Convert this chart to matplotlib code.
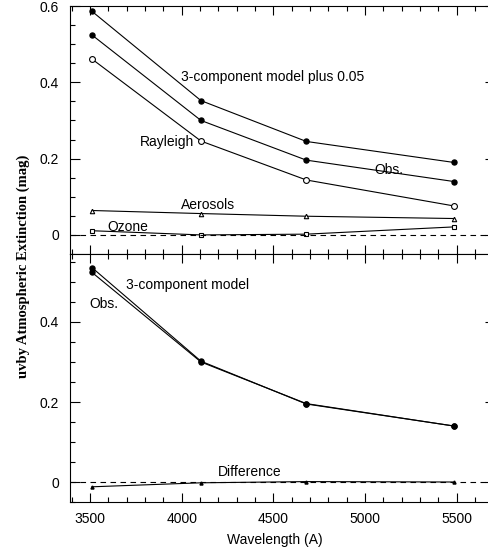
import matplotlib
matplotlib.use("Agg")
import matplotlib.pyplot as plt
from matplotlib.ticker import MultipleLocator

plt.rcParams["font.family"] = ["Liberation Sans", "DejaVu Sans"]
plt.rcParams["font.size"] = 10

# uvby central wavelengths (A)
wavelength = [3510, 4105, 4680, 5485]

# extinction components (mag)
rayleigh = [0.461, 0.246, 0.144, 0.076]
aerosols = [0.064, 0.056, 0.049, 0.043]
ozone = [0.011, 0.000, 0.002, 0.021]
model = [0.536, 0.302, 0.195, 0.140]
model_plus = [0.586, 0.352, 0.245, 0.190]
observed = [0.524, 0.300, 0.196, 0.140]
difference = [-0.012, -0.002, 0.001, 0.000]

XLIM = (3390, 5710)

fig = plt.figure(figsize=(4.89, 5.52), dpi=100)
left, right = 70 / 489, 495 / 489
ax1 = fig.add_axes([left, 1 - 254 / 552, right - left, 248 / 552])
ax2 = fig.add_axes([left, 1 - 502 / 552, right - left, 248 / 552])

line_kw = dict(color="black", linewidth=0.8)
filled = dict(marker="o", markersize=3.6, markerfacecolor="black", markeredgecolor="black")
open_circ = dict(marker="o", markersize=4.2, markerfacecolor="white", markeredgecolor="black",
                 markeredgewidth=0.8)

# top panel: components and observations
ax1.plot(wavelength, model_plus, **line_kw, **filled)
ax1.plot(wavelength, observed, **line_kw, **filled)
ax1.plot(wavelength, rayleigh, **line_kw, **open_circ)
ax1.plot(wavelength, aerosols, **line_kw, marker="^", markersize=3.2, markerfacecolor="white",
         markeredgecolor="black", markeredgewidth=0.8)
ax1.plot(wavelength, ozone, **line_kw, marker="s", markersize=3.0, markerfacecolor="white",
         markeredgecolor="black", markeredgewidth=0.8)
ax1.axhline(0, color="black", linewidth=0.8, linestyle=(0, (5, 4)))

ax1.text(3996, 0.414, "3-component model plus 0.05", va="center", ha="left")
ax1.text(4065, 0.244, "Rayleigh", va="center", ha="right")
ax1.text(5050, 0.171, "Obs.", va="center", ha="left")
ax1.text(3996, 0.079, "Aerosols", va="center", ha="left")
ax1.text(3593, 0.022, "Ozone", va="center", ha="left")

ax1.set_ylim(-0.05, 0.6)
ax1.yaxis.set_major_locator(MultipleLocator(0.2))
ax1.yaxis.set_minor_locator(MultipleLocator(0.05))

# bottom panel: model vs observed and their difference
ax2.plot(wavelength, model, **line_kw, **filled)
ax2.plot(wavelength, observed, **line_kw, **filled)
ax2.plot(wavelength, difference, **line_kw, marker="^", markersize=2.2, markerfacecolor="black",
         markeredgecolor="black")
ax2.axhline(0, color="black", linewidth=0.8, linestyle=(0, (5, 4)))

ax2.text(3696, 0.4925, "3-component model", va="center", ha="left")
ax2.text(3495, 0.445, "Obs.", va="center", ha="left")
ax2.text(4198, 0.025, "Difference", va="center", ha="left")

ax2.set_ylim(-0.05, 0.57)
ax2.yaxis.set_major_locator(MultipleLocator(0.2))
ax2.yaxis.set_minor_locator(MultipleLocator(0.05))

for ax in (ax1, ax2):
    ax.set_xlim(*XLIM)
    ax.xaxis.set_major_locator(MultipleLocator(500))
    ax.xaxis.set_minor_locator(MultipleLocator(100))
    ax.yaxis.set_major_formatter(plt.FuncFormatter(lambda v, p: "0" if abs(v) < 1e-9 else f"{v:.1f}"))
    ax.tick_params(which="both", direction="in", top=True, bottom=True, left=True, right=True,
                   width=0.8, labelsize=10)
    ax.tick_params(axis="x", which="major", length=6.5)
    ax.tick_params(axis="x", which="minor", length=3.4)
    ax.tick_params(axis="y", which="major", length=7.2, pad=8)
    ax.tick_params(axis="y", which="minor", length=3.6)
    ax.tick_params(axis="y", which="minor", right=False)
    for spine in ax.spines.values():
        spine.set_linewidth(0.8)

ax1.tick_params(axis="x", labelbottom=False)
ax2.set_xlabel("Wavelength (A)", fontsize=10)
ax2.xaxis.set_label_coords(0.481, -0.125)
ax2.tick_params(axis="x", pad=7)

fig.text(23 / 489, 1 - 266 / 552, "uvby Atmospheric Extinction (mag)", rotation=90,
         ha="center", va="center", fontsize=10.5, fontweight="bold",
         family=["Liberation Serif", "DejaVu Serif"])

fig.savefig("out.png", dpi=100)
